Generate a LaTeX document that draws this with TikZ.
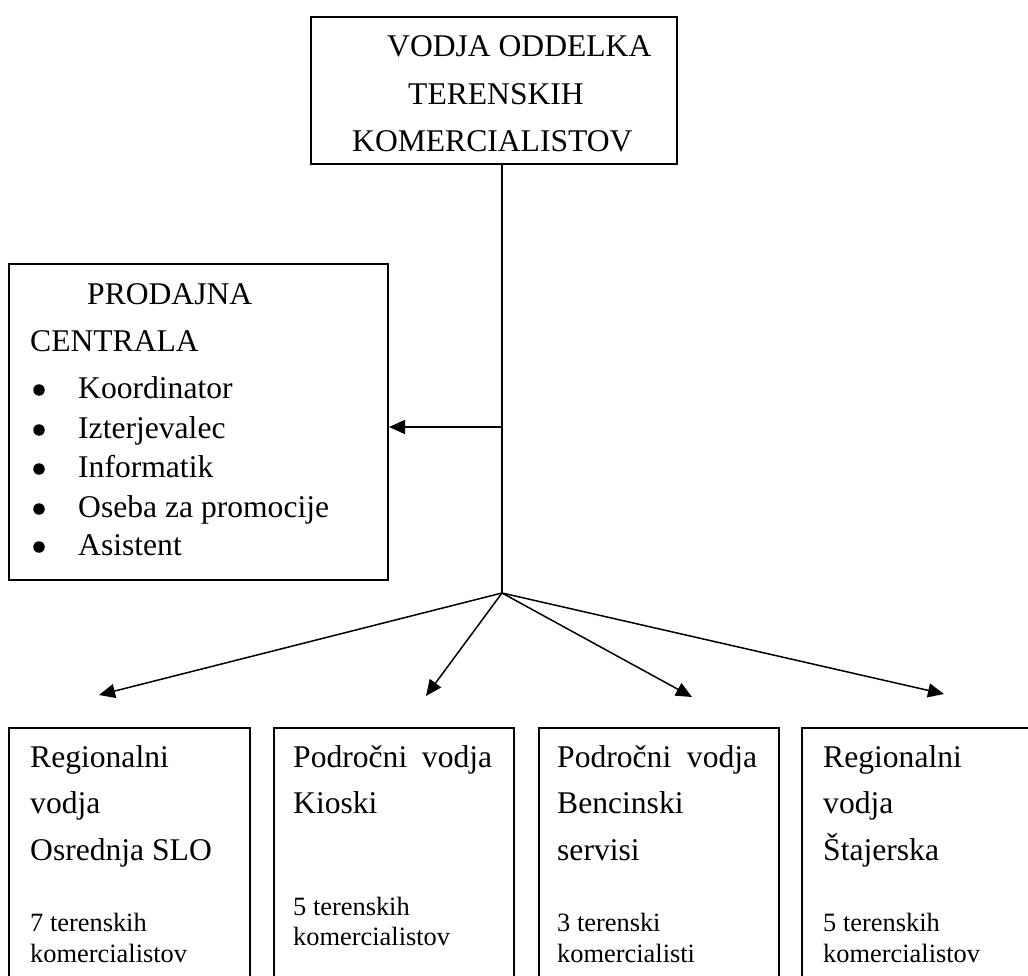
\documentclass[tikz,border=0pt]{standalone}
\usepackage{fontspec}
\setmainfont{Liberation Serif}
\usetikzlibrary{arrows.meta}
\newcommand{\bigtxt}{\fontsize{31.6}{38}\selectfont}
\newcommand{\smalltxt}{\fontsize{26.4}{31}\selectfont}
\begin{document}
\begin{tikzpicture}[x=1pt,y=-1pt,
  box/.style={draw, line width=2pt, rectangle, inner sep=0pt, anchor=north west},
  big/.style={anchor=base west, inner sep=0pt, font=\bigtxt},
  small/.style={anchor=base west, inner sep=0pt, font=\smalltxt},
  arr/.style={line width=1.5pt, -{Triangle[length=16pt,width=14pt]}},
  link/.style={line width=1.5pt},
  dot/.style={circle, fill, inner sep=0pt, minimum size=11.5pt}]
\useasboundingbox (0,0) rectangle (1028,976);
\clip (0,0) rectangle (1028,976);

% head of the department
\node[box, minimum width=366pt, minimum height=147pt] (top) at (310,16) {};
\node[big] (t1) at (387,57) {VODJA ODDELKA};
\node[big] (t2) at (408,105) {TERENSKIH};
\node[big] (t3) at (352,152) {KOMERCIALISTOV};

% sales centre
\node[box, minimum width=379pt, minimum height=316pt] (central) at (8,263) {};
\node[big] (c1) at (87,305) {PRODAJNA};
\node[big] (c2) at (30,351) {CENTRALA};
\foreach \y/\t [count=\i] in {398/Koordinator, 438/Izterjevalec, 477/Informatik, 517/Oseba za promocije, 555/Asistent} {
  \node[dot] (d\i) at (39,\y-8) {};
  \node[big] (i\i) at (78,\y) {\t};
}

% regional and area managers
\node[box, minimum width=241pt, minimum height=280pt] (b1) at (8,727) {};
\node[box, minimum width=240pt, minimum height=280pt] (b2) at (273,727) {};
\node[box, minimum width=240pt, minimum height=280pt] (b3) at (538,727) {};
\node[box, minimum width=260pt, minimum height=280pt] (b4) at (801,727) {};

\node[big] (b1a) at (30,767) {Regionalni};
\node[big] (b1b) at (30,813) {vodja};
\node[big] (b1c) at (30,860) {Osrednja SLO};
\node[small] (b1d) at (30,931) {7 terenskih};
\node[small] (b1e) at (30,962) {komercialistov};

\node[big] (b2a) at (293,767) {\makebox[199pt][s]{Področni vodja}};
\node[big] (b2b) at (293,813) {Kioski};
\node[small] (b2d) at (293,915) {5 terenskih};
\node[small] (b2e) at (293,945) {komercialistov};

\node[big] (b3a) at (557,767) {\makebox[200pt][s]{Področni vodja}};
\node[big] (b3b) at (557,813) {Bencinski};
\node[big] (b3c) at (557,860) {servisi};
\node[small] (b3d) at (557,931) {3 terenski};
\node[small] (b3e) at (557,962) {komercialisti};

\node[big] (b4a) at (823,767) {Regionalni};
\node[big] (b4b) at (823,813) {vodja};
\node[big] (b4c) at (823,860) {Štajerska};
\node[small] (b4d) at (823,931) {5 terenskih};
\node[small] (b4e) at (823,962) {komercialistov};

% connectors
\coordinate (hub) at (502,593);
\coordinate (tee) at (502,427);
\coordinate (p1) at (99,695);
\coordinate (p2) at (426,696);
\coordinate (p3) at (692,697);
\coordinate (p4) at (944,694);

\draw[link] (top.south -| hub) -- (hub);
\draw[arr] (tee) -- (central.east |- tee);
\foreach \p in {p1,p2,p3,p4} \draw[arr] (hub) -- (\p);
\end{tikzpicture}
\end{document}
